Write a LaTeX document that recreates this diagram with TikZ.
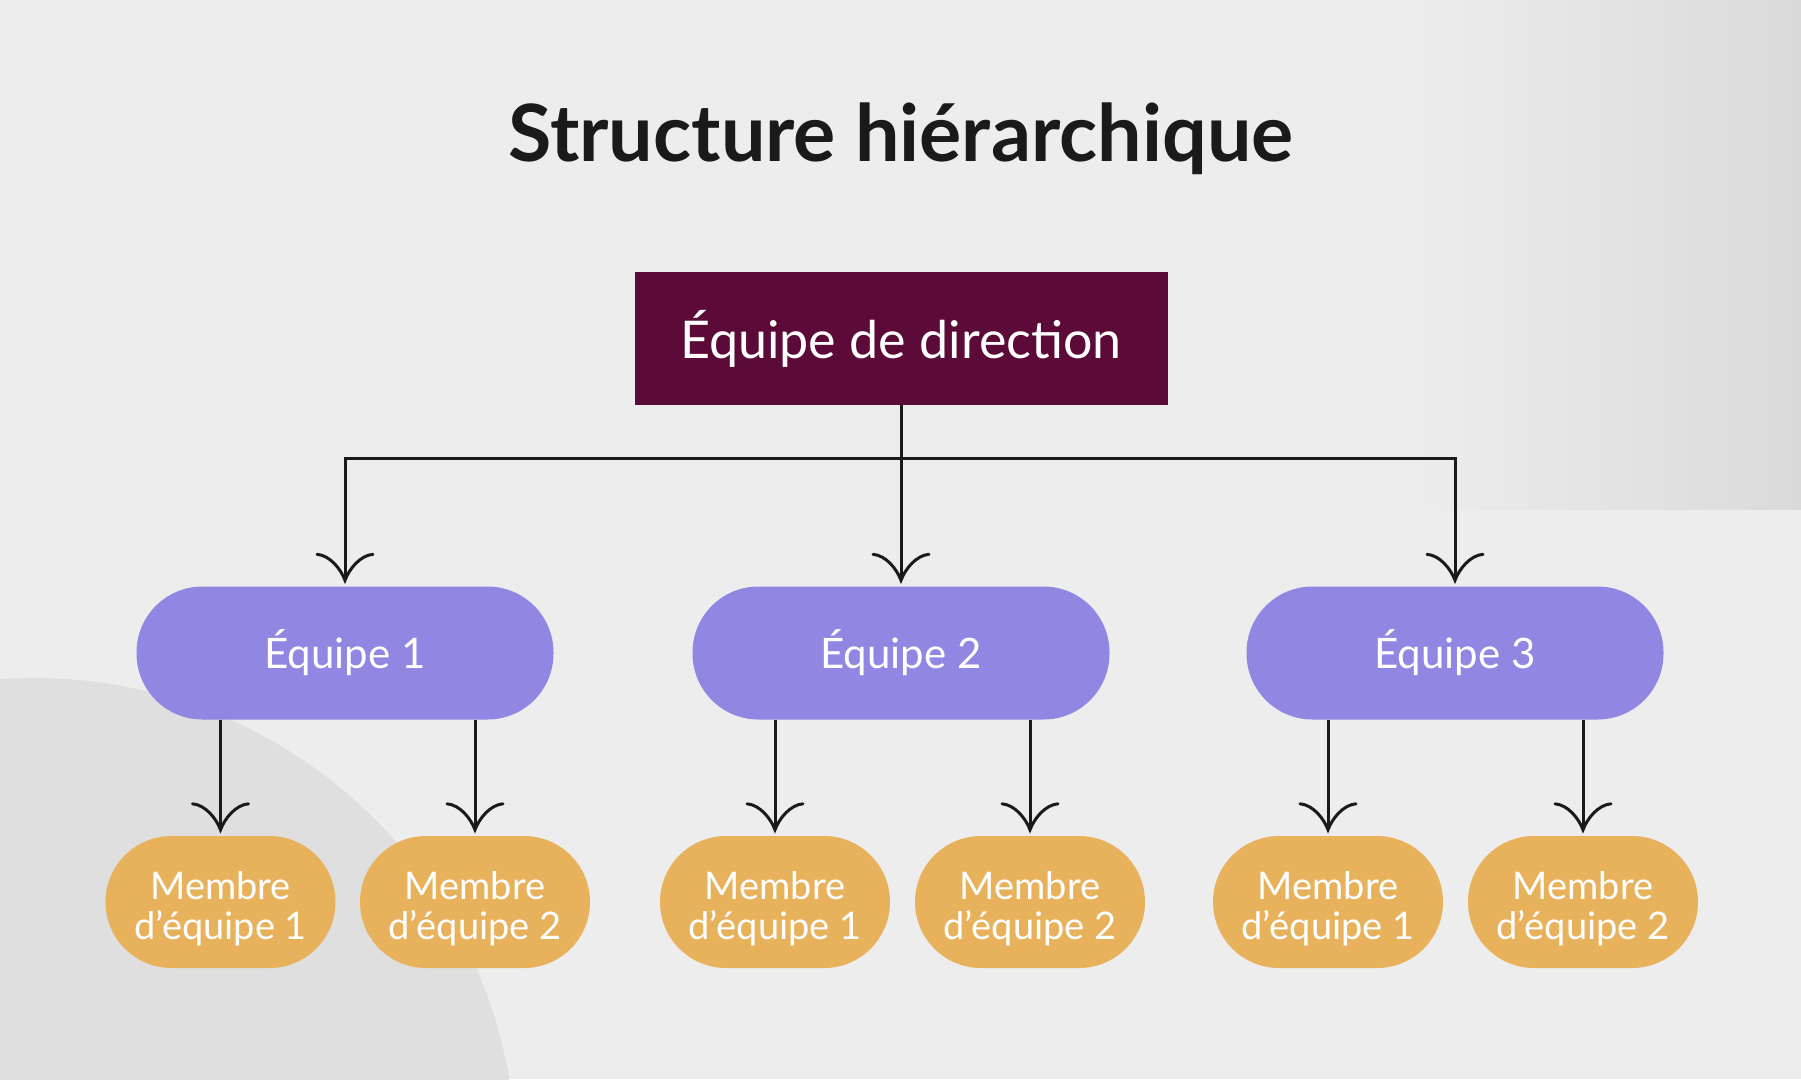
\documentclass[tikz,border=0pt]{standalone}
\usepackage{fontspec}
\setmainfont{Lato}
\usetikzlibrary{arrows.meta}
\definecolor{bg}{HTML}{EDEDED}
\definecolor{bgdark}{HTML}{DADADA}
\definecolor{circ}{HTML}{DFDFDF}
\definecolor{maroon}{HTML}{5C0A38}
\definecolor{lilac}{HTML}{8F87E1}
\definecolor{ochre}{HTML}{E8B25C}
\definecolor{ink}{HTML}{1A1A1A}
\pgfdeclarearrow{
  name = Wing,
  setup code = {
    \pgfarrowssettipend{0pt}
    \pgfarrowssetlineend{-1pt}
    \pgfarrowssetbackend{-28pt}
    \pgfarrowshullpoint{0pt}{0pt}
    \pgfarrowshullpoint{-28pt}{28pt}
    \pgfarrowshullpoint{-28pt}{-28pt}
  },
  drawing code = {
    \pgfsetdash{}{0pt}
    \pgfsetroundcap
    \pgfpathmoveto{\pgfpoint{-26pt}{28pt}}
    \pgfpathcurveto{\pgfpoint{-25pt}{15pt}}{\pgfpoint{-11pt}{4pt}}{\pgfpoint{0pt}{0pt}}
    \pgfpathcurveto{\pgfpoint{-11pt}{-4pt}}{\pgfpoint{-25pt}{-15pt}}{\pgfpoint{-26pt}{-28pt}}
    \pgfusepathqstroke
  }
}
\newcommand\mstrut{\rule{0pt}{41pt}}
\tikzset{
  conn/.style={draw=ink, line width=3pt, -Wing, shorten >=6pt},
  dirbox/.style={fill=maroon, text=white, minimum width=533pt, minimum height=133pt,
    inner sep=0pt, font=\fontsize{52}{60}\selectfont},
  teambox/.style={fill=lilac, text=white, minimum width=417pt, minimum height=133pt,
    rounded corners=66pt, inner sep=0pt, font=\fontsize{42}{50}\selectfont},
  memberbox/.style={fill=ochre, text=white, minimum width=230pt, minimum height=132pt,
    rounded corners=66pt, inner sep=0pt, align=center, font=\fontsize{38}{40}\selectfont},
}
\begin{document}
\begin{tikzpicture}[x=1pt,y=-1pt]
\useasboundingbox (0,0) rectangle (1801,1079);
\fill[bg] (0,0) rectangle (1801,1079);
\begin{scope}
  \clip (0,0) rectangle (1801,1079);
  \shade[left color=bg, right color=bgdark] (1410,0) rectangle (1801,509);
  \fill[circ] (34,1160) circle (482);
\end{scope}

\node[font=\bfseries\fontsize{79}{84}\selectfont, text=ink] (title) at (901,139) {Structure hiérarchique};

\node[dirbox] (dir) at (901,338.5) {Équipe de direction};

\node[teambox] (e1) at (345,653) {Équipe 1};
\node[teambox] (e2) at (901,653) {Équipe 2};
\node[teambox] (e3) at (1455,653) {Équipe 3};

\node[memberbox] (m11) at (220.5,902) {\mstrut Membre\\d’équipe 1};
\node[memberbox] (m12) at (475,902) {\mstrut Membre\\d’équipe 2};
\node[memberbox] (m21) at (775,902) {\mstrut Membre\\d’équipe 1};
\node[memberbox] (m22) at (1030,902) {\mstrut Membre\\d’équipe 2};
\node[memberbox] (m31) at (1328,902) {\mstrut Membre\\d’équipe 1};
\node[memberbox] (m32) at (1583,902) {\mstrut Membre\\d’équipe 2};

\coordinate (bus) at (901,458);
\draw[conn] (dir.south) -- (e2.north);
\draw[conn] (dir.south) -- (bus) -| (e1.north);
\draw[conn] (dir.south) -- (bus) -| (e3.north);

\draw[conn] (e1.south -| m11.north) -- (m11.north);
\draw[conn] (e1.south -| m12.north) -- (m12.north);
\draw[conn] (e2.south -| m21.north) -- (m21.north);
\draw[conn] (e2.south -| m22.north) -- (m22.north);
\draw[conn] (e3.south -| m31.north) -- (m31.north);
\draw[conn] (e3.south -| m32.north) -- (m32.north);
\end{tikzpicture}
\end{document}
